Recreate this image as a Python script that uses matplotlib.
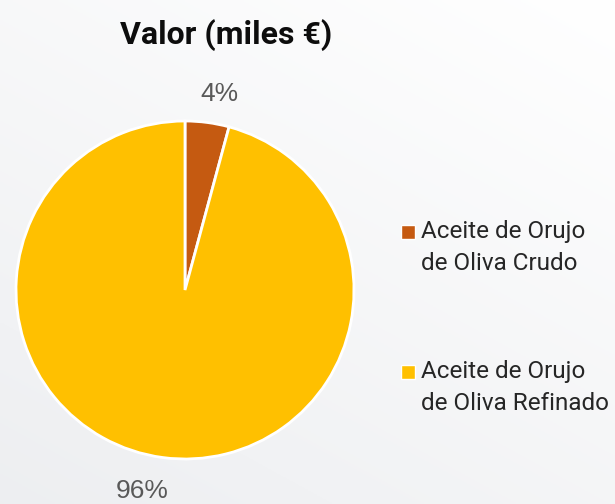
import numpy as np
import matplotlib
matplotlib.use("Agg")
import matplotlib.pyplot as plt
from matplotlib.patches import Rectangle

title = "Valor (miles €)"
categories = ["Aceite de Orujo\nde Oliva Crudo", "Aceite de Orujo\nde Oliva Refinado"]
values = [4.2, 95.8]
colors = ["#C55A11", "#FFC000"]

W, H = 615, 504
fig = plt.figure(figsize=(W / 100, H / 100), dpi=100)

# background gradient
bg = fig.add_axes([0, 0, 1, 1], zorder=-10)
yy, xx = np.mgrid[0:1:200j, 0:1:200j]
t = np.clip((xx * 0.6 + yy * 0.9) / 1.5, 0, 1)
c0 = np.array([0.93, 0.935, 0.945])
c1 = np.array([1.0, 1.0, 1.0])
img = c0[None, None, :] * (1 - t[..., None]) + c1[None, None, :] * t[..., None]
bg.imshow(img, extent=[0, 1, 0, 1], origin="lower", aspect="auto")
bg.axis("off")

cx, cy, r = 185, H - 290, 169
ax = fig.add_axes([(cx - r) / W, (cy - r) / H, 2 * r / W, 2 * r / H])
wedges, texts, autotexts = ax.pie(
    values, colors=colors, startangle=90, counterclock=False,
    autopct="%1.0f%%", pctdistance=1.19, labels=None,
    wedgeprops=dict(edgecolor="white", linewidth=2),
    textprops=dict(fontsize=19, color="#595959", family="Liberation Sans"),
)
nudges = [(0.05, -0.02), (-0.095, -0.01)]
for at, (dx, dy) in zip(autotexts, nudges):
    x, y = at.get_position()
    at.set_position((x + dx, y + dy))
ax.set_xlim(-1, 1)
ax.set_ylim(-1, 1)
ax.set_aspect("equal")
ax.axis("off")

fig.text(226 / W, 1 - 35 / H, title, ha="center", va="center",
         fontsize=23, fontweight="bold", family="Roboto", color="#0D0D0D")

# legend
ys = [232, 372]
for lab, col, y in zip(categories, colors, ys):
    sq = 14
    fig.patches.append(Rectangle(((401) / W, 1 - (y + sq / 2) / H), sq / W, sq / H,
                                 transform=fig.transFigure, facecolor=col,
                                 edgecolor="white", linewidth=1))
    fig.text(421 / W, 1 - (y - 12) / H, lab, ha="left", va="top",
             fontsize=17.5, color="#262626", family="Roboto", linespacing=1.5)

fig.savefig("out.png", dpi=100)
